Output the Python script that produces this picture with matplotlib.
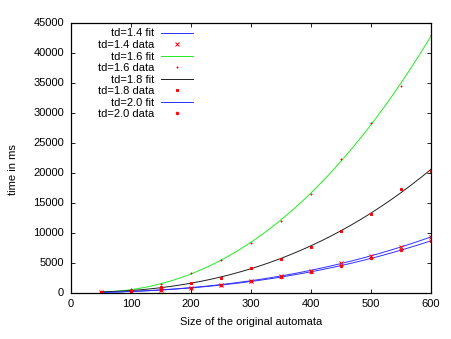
import numpy as np
import matplotlib
matplotlib.use('Agg')
import matplotlib.pyplot as plt

plt.rcParams['font.family'] = ['Liberation Sans', 'DejaVu Sans']
plt.rcParams['font.size'] = 8

# sizes of the original automata
sizes = np.array([50, 100, 150, 200, 250, 300, 350, 400, 450, 500, 550, 600])

td14 = np.array([50, 150, 450, 800, 1300, 2000, 2800, 3650, 4850, 6050, 7650, 9250])
td16 = np.array([60, 530, 1450, 3200, 5420, 8300, 11900, 16500, 22200, 28250, 34400, 42900])
td18 = np.array([50, 300, 1000, 1530, 2470, 4140, 5640, 7640, 10200, 13080, 17300, 20200])
td20 = np.array([40, 130, 400, 750, 1250, 1850, 2650, 3420, 4400, 5700, 7100, 8600])

series = [
    ('td=1.4', td14, '#3030ff', 'x', 2.5),
    ('td=1.6', td16, '#20ee20', '+', 2.0),
    ('td=1.8', td18, '#202020', 's', 1.8),
    ('td=2.0', td20, '#3030ff', 'o', 1.8),
]

fig = plt.figure(figsize=(4.51, 3.39), dpi=100)
ax = fig.add_axes([71 / 451, 1 - 292.5 / 339, 360 / 451, 270 / 339])

xs = np.linspace(50, 600, 200)
for name, ys, col, mk, ms in series:
    coef = np.polyfit(sizes, ys, 3)
    ax.plot(xs, np.polyval(coef, xs), color=col, lw=0.7, label=name + ' fit')
    ax.plot(sizes, ys, linestyle='none', marker=mk, color='red', ms=ms,
            mew=0.7, label=name + ' data')

ax.set_xlim(0, 600)
ax.set_ylim(0, 45000)
ax.set_xticks(np.arange(0, 601, 100))
ax.set_yticks(np.arange(0, 45001, 5000))
ax.tick_params(direction='in', top=True, right=True, length=3, width=0.6, pad=5)
for s in ax.spines.values():
    s.set_linewidth(0.9)

ax.set_xlabel('Size of the original automata')
ax.set_ylabel('time in ms')
ax.yaxis.label.set_va('center')
ax.xaxis.label.set_va('center')
ax.yaxis.set_label_coords(-0.162, 0.454)
ax.xaxis.set_label_coords(0.5, -0.109)

ax.legend(loc='upper right', bbox_to_anchor=(0.339, 0.978), frameon=False,
          markerfirst=False, borderpad=0, borderaxespad=0, labelspacing=0.14,
          handlelength=2.9, handletextpad=0.6)

fig.savefig('out.png', dpi=100)
